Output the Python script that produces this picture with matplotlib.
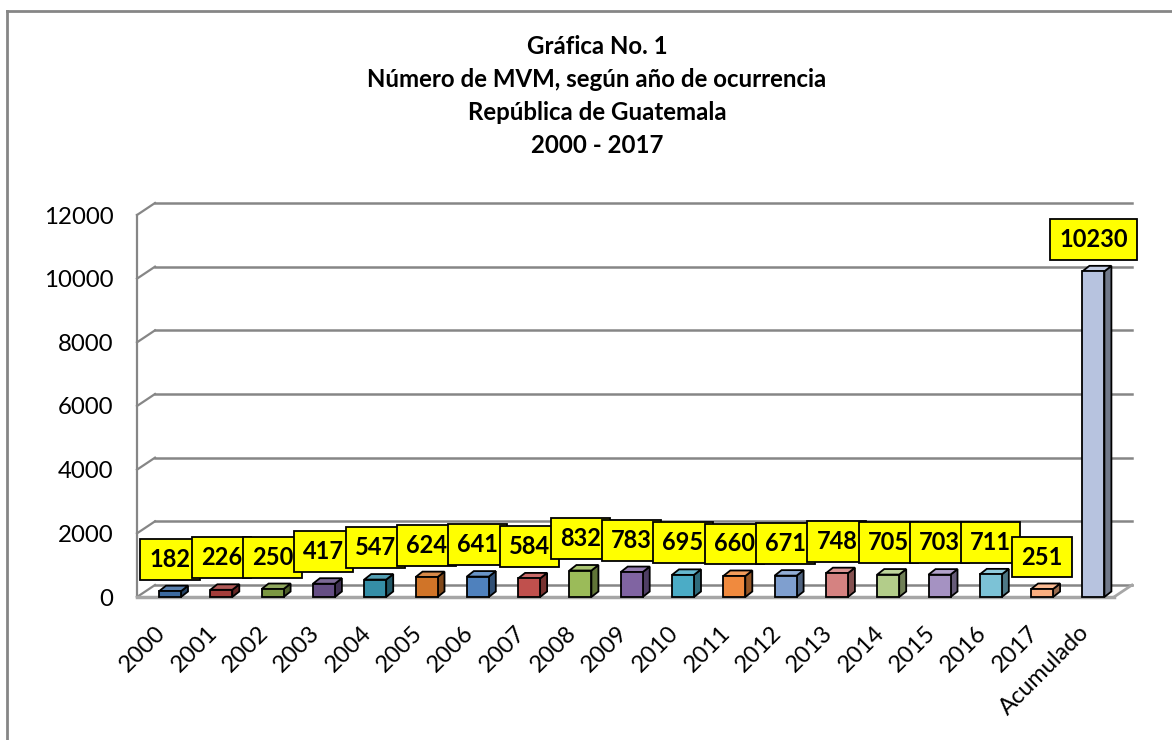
import matplotlib
matplotlib.use("Agg")
import matplotlib.pyplot as plt
import matplotlib.colors as mcolors
from matplotlib.patches import Polygon
from matplotlib.lines import Line2D

# Data
categories = ["2000", "2001", "2002", "2003", "2004", "2005", "2006", "2007",
              "2008", "2009", "2010", "2011", "2012", "2013", "2014", "2015",
              "2016", "2017", "Acumulado"]
values = [182, 226, 250, 417, 547, 624, 641, 584, 832, 783, 695, 660,
          671, 748, 705, 703, 711, 251, 10230]
bar_colors = ["#3C6AA0", "#A33D3A", "#7B9742", "#654E84", "#358EA7", "#D07428",
              "#4F81BD", "#C0504D", "#9BBB59", "#8064A2", "#4BACC6", "#F08A3E",
              "#7F9FCF", "#D58281", "#B3CD8A", "#A592C2", "#7CC2D6", "#F9AE80",
              "#B7C3DF"]
y_ticks = [0, 2000, 4000, 6000, 8000, 10000, 12000]
title_lines = ["Gráfica No. 1",
               "Número de MVM, según año de ocurrencia",
               "República de Guatemala",
               "2000 - 2017"]

W, H = 1172, 740
plt.rcParams['font.family'] = ['Lato', 'DejaVu Sans']
fig = plt.figure(figsize=(W / 100, H / 100), dpi=100)

# Plot box in pixels (front plane)
left, right, top, bottom = 137, 1132, 215, 597
x_first, step = 170, 51.3
ax = fig.add_axes([left / W, 1 - bottom / H, (right - left) / W, (bottom - top) / H])
xl, xr = (left - x_first) / step, (right - x_first) / step
ax.set_xlim(xl, xr)
ax.set_ylim(0, 12000)
px_val = 12000 / (bottom - top)

# depth of the chart walls
DX = 18 / step
DY = 12 * px_val
wall = "#868686"

# left edge and back wall gridlines
ax.plot([xl, xl], [0, 12000], color=wall, lw=1.6, clip_on=False)
for t in y_ticks:
    ax.plot([xl, xl + DX], [t, t + DY], color=wall, lw=1.6, clip_on=False)
    ax.plot([xl + DX, xr], [t + DY, t + DY], color=wall, lw=1.8, clip_on=False)
# floor
ax.plot([xl, xr - DX], [0, 0], color="#A6A6A6", lw=2.5, clip_on=False)
ax.plot([xr - DX, xr], [0, DY], color="#A6A6A6", lw=2.0, clip_on=False)

# 3D-like bars
BW = 22 / step
bdx = 7 / step
bdy = 5.5 * px_val
for i, (v, c) in enumerate(zip(values, bar_colors)):
    x0, x1 = i - BW / 2, i + BW / 2
    rgb = mcolors.to_rgb(c)
    side = tuple(ch * 0.62 for ch in rgb)
    topc = tuple(ch * 0.85 + 0.15 for ch in rgb)
    ax.add_patch(Polygon([(x1, 0), (x1 + bdx, bdy), (x1 + bdx, v + bdy), (x1, v)],
                         closed=True, fc=side, ec="black", lw=1.3, zorder=3, clip_on=False))
    ax.add_patch(Polygon([(x0, v), (x0 + bdx, v + bdy), (x1 + bdx, v + bdy), (x1, v)],
                         closed=True, fc=topc, ec="black", lw=1.3, zorder=3, clip_on=False))
    ax.add_patch(Polygon([(x0, 0), (x1, 0), (x1, v), (x0, v)],
                         closed=True, fc=c, ec="black", lw=1.3, zorder=4, clip_on=False))
    ax.annotate(str(v), xy=(i, v), xytext=(0, 32), textcoords="offset pixels",
                ha="center", va="center", fontsize=17, fontweight="bold",
                zorder=5, annotation_clip=False,
                bbox=dict(boxstyle="square,pad=0.38", fc="#FFFF00", ec="black", lw=1.3))

# axes ticks
ax.set_xticks(range(len(categories)))
ax.set_xticklabels(categories, rotation=45, ha="right", va="top")
ax.set_yticks(y_ticks)
ax.set_yticklabels([str(t) for t in y_ticks])
ax.tick_params(axis="x", length=0, pad=18, labelsize=17)
ax.tick_params(axis="y", length=0, pad=17, labelsize=17.3)
for s in ax.spines.values():
    s.set_visible(False)

# title
for k, line in enumerate(title_lines):
    fig.text(597 / W, 1 - (46 + 33.3 * k) / H, line, ha="center", va="center",
             fontsize=17.3, fontweight="bold")

# chart border (left and top only visible)
fig.add_artist(Line2D([7 / W, 7 / W], [0, 1 - 11 / H], color="#868686", lw=2))
fig.add_artist(Line2D([7 / W, 1], [1 - 11 / H, 1 - 11 / H], color="#868686", lw=2))

fig.savefig("out.png", dpi=100)
